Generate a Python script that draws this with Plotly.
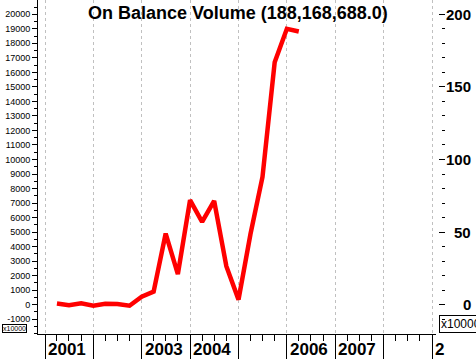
import plotly.graph_objects as go

# ---- data ----
quarters = ["2001-04-01", "2001-07-01", "2001-10-01",
            "2002-01-01", "2002-04-01", "2002-07-01", "2002-10-01",
            "2003-01-01", "2003-04-01", "2003-07-01", "2003-10-01",
            "2004-01-01", "2004-04-01", "2004-07-01", "2004-10-01",
            "2005-01-01", "2005-04-01", "2005-07-01", "2005-10-01",
            "2006-01-01", "2006-04-01"]
obv_x10000 = [80, -40, 100, -70, 70, 50, -70,
              550, 900, 4900, 2100,
              7200, 5700, 7150, 2650,
              350, 4850, 8800, 16700,
              19000, 18817]
obv_millions = [v / 100.0 for v in obv_x10000]

year_ticks = ["2001-01-01", "2002-01-01", "2003-01-01", "2004-01-01", "2005-01-01",
              "2006-01-01", "2007-01-01", "2008-01-01", "2009-01-01"]
year_labels = ["2001", "", "2003", "2004", "", "2006", "2007", "", "2"]

left_ticks = list(range(-1000, 20001, 1000))
left_labels = [str(v) for v in left_ticks]
right_ticks = [0, 50, 100, 150, 200]
right_labels = ["0", "50", "100", "150", "200"]

title_text = "On Balance Volume (188,168,688.0)"

# ---- geometry ----
W, H = 476, 359
ml, mr, mt, mb = 38, 31, 0, 25
pw = W - ml - mr
ph = H - mt - mb
x_dom_end = (436 - ml) / pw

FONT = "Liberation Sans, Arial, sans-serif"

fig = go.Figure()
fig.add_trace(go.Scatter(x=quarters, y=obv_x10000, mode="lines",
                         line=dict(color="#ff0000", width=4.5),
                         hoverinfo="x+y", showlegend=False))
fig.add_trace(go.Scatter(x=quarters, y=obv_millions, mode="lines", yaxis="y2",
                         line=dict(color="rgba(0,0,0,0)", width=1),
                         hoverinfo="skip", showlegend=False))

annotations = []
annotations.append(dict(text="<b>" + title_text + "</b>", xref="paper", yref="paper",
                        x=(237.5 - ml) / pw, y=1 - 13 / ph, xanchor="center", yanchor="middle",
                        showarrow=False, font=dict(family=FONT, size=18, color="black")))
for d, lab in zip(year_ticks, year_labels):
    if lab:
        annotations.append(dict(text="<b>" + lab + "</b>", xref="x", yref="paper",
                                x=d, y=-15 / ph, xanchor="left", yanchor="middle", xshift=1,
                                showarrow=False, font=dict(family=FONT, size=17, color="black")))
for v, lab in zip(right_ticks, right_labels):
    annotations.append(dict(text="<b>" + lab + "</b>", xref="paper", yref="y2",
                            x=(473 - ml) / pw, y=v, xanchor="right", yanchor="middle",
                            showarrow=False, font=dict(family=FONT, size=15, color="black")))
annotations.append(dict(text="x10000", xref="paper", yref="paper",
                        x=(2 - ml) / pw, y=(ph - 328.5) / ph, xanchor="left", yanchor="middle",
                        showarrow=False, bordercolor="black", borderwidth=1, borderpad=0,
                        font=dict(family=FONT, size=7, color="black")))
annotations.append(dict(text="x1000000", xref="paper", yref="paper",
                        x=(439 - ml) / pw, y=(ph - 324) / ph, xanchor="left", yanchor="middle",
                        showarrow=False, bordercolor="black", borderwidth=1, borderpad=1,
                        font=dict(family=FONT, size=12, color="black")))

fig.update_layout(
    template="none",
    width=W, height=H,
    margin=dict(l=ml, r=mr, t=mt, b=mb, pad=0, autoexpand=False),
    paper_bgcolor="white", plot_bgcolor="white",
    font=dict(family=FONT, color="black"),
    showlegend=False,
    xaxis=dict(type="date", domain=[0, x_dom_end], automargin=False,
               range=["2000-11-09", "2009-01-31"],
               tickmode="array", tickvals=year_ticks, showticklabels=False,
               ticks="outside", ticklen=25, tickcolor="black", tickwidth=1,
               minor=dict(dtick="M3", tick0="2001-01-01", ticks="outside", ticklen=6,
                          tickcolor="black", showgrid=False),
               showgrid=True, gridcolor="#c0c0c0", griddash="3px,3px", gridwidth=1,
               showline=True, linecolor="black", linewidth=1, zeroline=False),
    yaxis=dict(range=[-2018, 20985], tickmode="array", tickvals=left_ticks,
               ticktext=left_labels, automargin=False,
               ticks="outside", ticklen=5, tickcolor="black",
               minor=dict(dtick=500, tick0=0, ticks="outside", ticklen=3, tickcolor="black",
                          showgrid=False),
               tickfont=dict(family=FONT, size=9, color="black"),
               showgrid=False, zeroline=False,
               showline=True, linecolor="black", linewidth=1),
    yaxis2=dict(range=[-20.18, 209.85], overlaying="y", side="right",
                anchor="free", position=1.0, automargin=False,
                tickmode="array", tickvals=right_ticks, showticklabels=False,
                ticks="inside", ticklen=6, tickcolor="black",
                minor=dict(dtick=10, tick0=0, ticks="inside", ticklen=3, tickcolor="black",
                           showgrid=False),
                showgrid=False, zeroline=False, showline=False),
    annotations=annotations,
)

fig.write_html("out.html", config={"displayModeBar": False},
               post_script="document.body.style.margin='0';document.body.style.overflow='hidden';")
